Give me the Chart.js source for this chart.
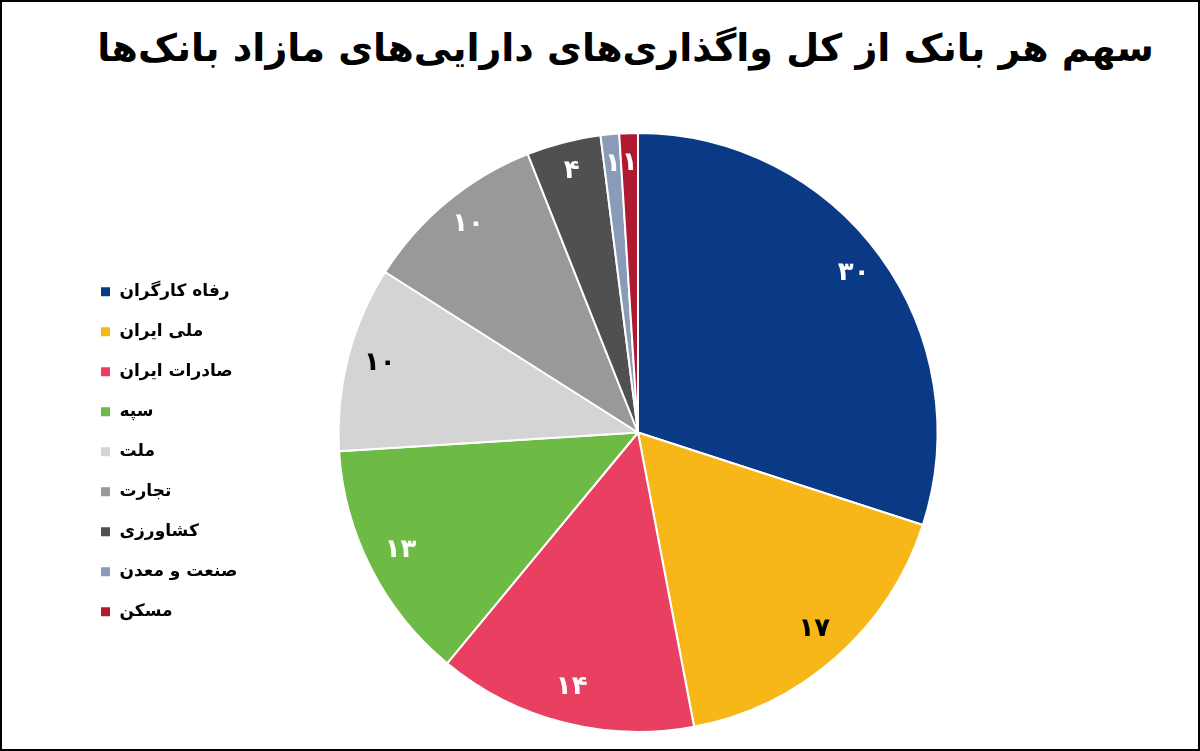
<!DOCTYPE html>
<html lang="fa">
<head>
<meta charset="utf-8">
<title>سهم هر بانک</title>
<script src="https://cdn.jsdelivr.net/npm/chart.js@4.4.1/dist/chart.umd.min.js"></script>
<style>
    html, body { margin: 0; padding: 0; background: #fff; }
    #frame {
        position: relative;
        width: 1200px;
        height: 751px;
        box-sizing: border-box;
        border: 2px solid #000;
        background: #fff;
        overflow: hidden;
    }
    #title {
        position: absolute;
        top: 24px;
        right: 44px;
        margin: 0;
        direction: rtl;
        font-family: 'DejaVu Sans', sans-serif;
        font-weight: bold;
        font-size: 38px;
        color: #000;
        white-space: nowrap;
    }
    #chartBox {
        position: absolute;
        left: -2px;
        top: 108px;
        width: 1200px;
        height: 643px;
    }
</style>
</head>
<body>
<div id="frame">
    <h1 id="title">سهم هر بانک از کل واگذاری‌های دارایی‌های مازاد بانک‌ها</h1>
    <div id="chartBox"><canvas id="bankShareChart"></canvas></div>
</div>
<script>
// bank names, share values and the printed (Persian digit) labels
const bankLabels = ['رفاه کارگران', 'ملی ایران', 'صادرات ایران', 'سپه', 'ملت', 'تجارت', 'کشاورزی', 'صنعت و معدن', 'مسکن'];
const shareValues = [30, 17, 14, 13, 10, 10, 4, 1, 1];
const valueTexts = ['۳۰', '۱۷', '۱۴', '۱۳', '۱۰', '۱۰', '۴', '۱', '۱'];

const sliceColors = ['#0a3a86', '#f8b719', '#e93f61', '#6dbb45', '#d4d4d4', '#999999', '#505050', '#8a9bb8', '#b01a30'];
const valueColors = ['#fff', '#000', '#fff', '#fff', '#000', '#fff', '#fff', '#fff', '#fff'];

// Draw the value inside each slice, near the rim
const sliceValuePlugin = {
    id: 'sliceValues',
    afterDatasetsDraw(chart) {
        const ctx = chart.ctx;
        const meta = chart.getDatasetMeta(0);
        ctx.save();
        ctx.font = 'bold 26px "DejaVu Sans", sans-serif';
        ctx.textAlign = 'center';
        ctx.textBaseline = 'middle';
        meta.data.forEach(function (arc, i) {
            const p = arc.getProps(['x', 'y', 'startAngle', 'endAngle', 'outerRadius'], true);
            const mid = (p.startAngle + p.endAngle) / 2;
            const r = p.outerRadius * 0.89;
            const x = p.x + Math.cos(mid) * r;
            const y = p.y + Math.sin(mid) * r - 3;
            ctx.fillStyle = valueColors[i];
            ctx.fillText(valueTexts[i], x, y);
        });
        ctx.restore();
    }
};

const ctx = document.getElementById('bankShareChart');
new Chart(ctx.getContext('2d'), {
    type: 'pie',
    data: {
        labels: bankLabels,
        datasets: [{
            data: shareValues,
            backgroundColor: sliceColors,
            borderColor: '#fff',
            borderWidth: 2
        }]
    },
    options: {
        responsive: true,
        maintainAspectRatio: false,
        animation: false,
        layout: {
            padding: { left: 77, right: 1, top: 22, bottom: 20 }
        },
        plugins: {
            legend: {
                position: 'chartArea',
                align: 'center',
                title: {
                    display: true,
                    text: ' ',
                    font: { size: 12 },
                    padding: { top: 0, bottom: 68 }
                },
                labels: {
                    boxWidth: 11,
                    boxHeight: 11,
                    padding: 23,
                    color: '#000',
                    font: { family: '"DejaVu Sans", sans-serif', size: 17, weight: 'bold' }
                }
            },
            tooltip: { enabled: false }
        }
    },
    plugins: [sliceValuePlugin]
});
</script>
</body>
</html>
